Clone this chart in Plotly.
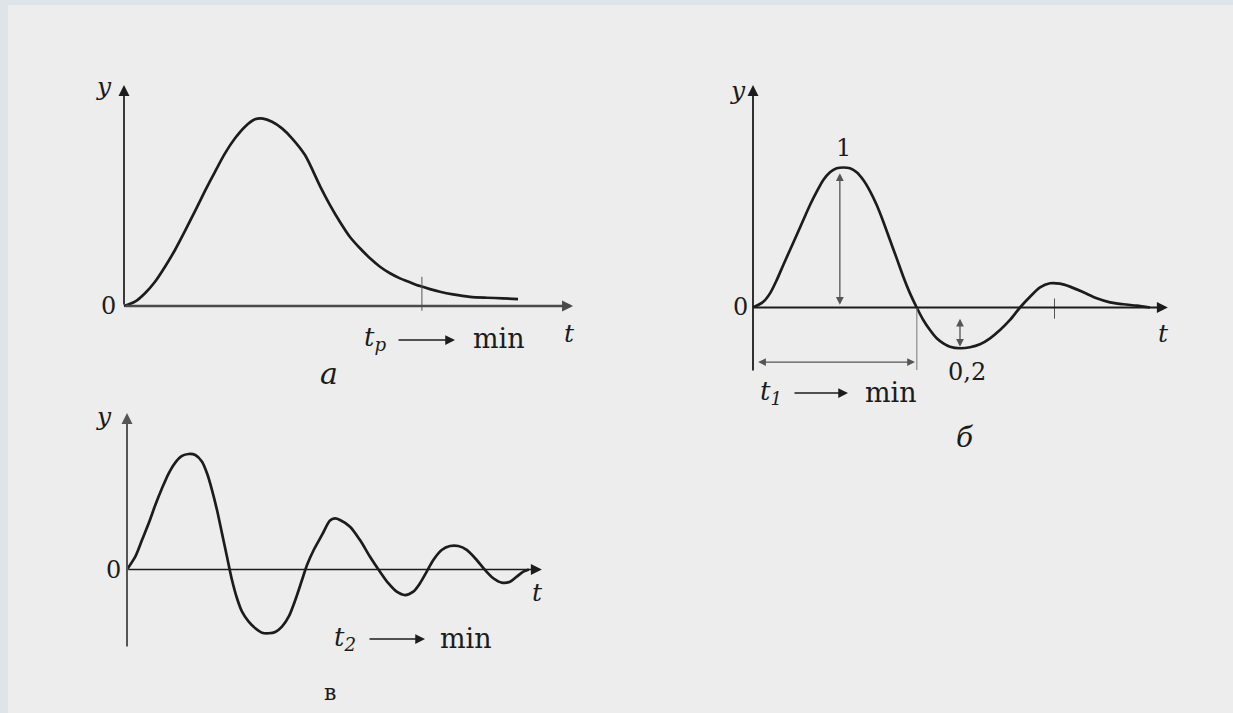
import plotly.graph_objects as go

W, H = 1233, 713

# ---------------- data ----------------
# Panel а: aperiodic transient
t_a = [0, 0.244, 0.467, 0.689, 0.911, 1.133, 1.356, 1.578, 1.8, 2.022, 2.244, 2.467,
       2.689, 2.911, 3.089, 3.289, 3.511, 3.733, 4.022, 4.356, 4.578, 4.8, 5.022,
       5.244, 5.467, 5.689, 5.911, 6.133, 6.356, 6.578, 6.8, 7.022, 7.311, 7.689,
       8.067, 8.422, 8.756]
y_a = [0, 0.023, 0.068, 0.129, 0.209, 0.298, 0.399, 0.505, 0.612, 0.714, 0.812, 0.892,
       0.954, 0.993, 0.997, 0.98, 0.945, 0.892, 0.803, 0.638, 0.537, 0.447, 0.367,
       0.307, 0.254, 0.209, 0.174, 0.147, 0.126, 0.106, 0.090, 0.076, 0.062, 0.049,
       0.044, 0.041, 0.037]
tp_a = 6.62

# Panel б: damped process, overshoot 0.2
t_b = [0, 0.229, 0.378, 0.527, 0.673, 0.822, 0.971, 1.118, 1.267, 1.416, 1.562, 1.711,
       1.86, 2.007, 2.156, 2.304, 2.451, 2.6, 2.749, 2.896, 3.044, 3.193, 3.34, 3.489,
       3.638, 3.784, 3.933, 4.082, 4.229, 4.378, 4.6, 4.822, 5.044, 5.267, 5.489,
       5.711, 5.933, 6.156, 6.378, 6.6, 6.822, 7.044, 7.34, 7.638, 7.933, 8.229,
       8.527, 8.822]
y_b = [0, 0.041, 0.101, 0.196, 0.304, 0.411, 0.518, 0.625, 0.732, 0.827, 0.911, 0.966,
       0.994, 1.0, 0.994, 0.966, 0.911, 0.832, 0.732, 0.613, 0.482, 0.351, 0.22, 0.101,
       0, -0.089, -0.161, -0.22, -0.256, -0.28, -0.291, -0.284, -0.263, -0.22, -0.161,
       -0.089, 0, 0.077, 0.144, 0.173, 0.17, 0.149, 0.109, 0.066, 0.037, 0.023,
       0.013, 0]
peak_b = (1.93, 1.0)
trough_b = (4.6, -0.29)
t1_b = 3.64
tick_b = 6.7

# Panel в: weakly damped oscillation
t_c = [0, 0.184, 0.333, 0.482, 0.629, 0.778, 0.927, 1.073, 1.222, 1.371, 1.518, 1.667,
       1.778, 1.889, 2.0, 2.111, 2.222, 2.333, 2.444, 2.556, 2.704, 2.851, 3.0, 3.149,
       3.296, 3.444, 3.593, 3.74, 3.889, 4.0, 4.149, 4.333, 4.511, 4.622, 4.733, 4.956,
       5.178, 5.4, 5.622, 5.807, 5.993, 6.178, 6.362, 6.511, 6.66, 6.807, 6.993, 7.178,
       7.362, 7.549, 7.771, 7.956, 8.14, 8.327, 8.511, 8.66, 8.807, 8.93]
y_c = [0, 0.111, 0.255, 0.4, 0.558, 0.703, 0.833, 0.925, 0.983, 1.0, 0.991, 0.933,
       0.833, 0.688, 0.515, 0.313, 0.111, -0.091, -0.249, -0.365, -0.452, -0.509, -0.547,
       -0.552, -0.541, -0.495, -0.409, -0.264, -0.091, 0.039, 0.169, 0.299, 0.425, 0.442,
       0.429, 0.371, 0.255, 0.111, -0.019, -0.119, -0.192, -0.221, -0.192, -0.119,
       -0.019, 0.082, 0.169, 0.203, 0.203, 0.169, 0.082, -0.004, -0.076, -0.114,
       -0.106, -0.062, -0.019, 0.0]

# ---------------- layout geometry (pixels) ----------------
panels = {
    "a": dict(ox=124, oy=306, sx=45, sy=188, L=80, R=600, T=70, B=395,
              xa=(0, 9.98), ya=(0, 1.176), xcol="#4a4a4a", xw=2.3, ycol="#1c1c1c", yw=1.7),
    "b": dict(ox=753, oy=307.5, sx=45, sy=140, L=700, R=1200, T=70, B=455,
              xa=(0, 9.22), ya=(-0.46, 1.589), xcol="#1c1c1c", xw=1.8, ycol="#1c1c1c", yw=1.8),
    "c": dict(ox=127, oy=569.5, sx=45, sy=115.5, L=80, R=570, T=400, B=705,
              xa=(0, 9.22), ya=(-0.68, 1.355), xcol="#1c1c1c", xw=1.7, ycol="#555555", yw=2.0),
}

INK = "#1c1c1c"
GREY = "#8a8a8a"
SERIF = '"DejaVu Serif", "Liberation Serif", serif'

fig = go.Figure()
layout = {}
annotations = []
shapes = []


def px(x, y):
    return x / W, 1 - y / H


def axes_names(i):
    s = "" if i == 1 else str(i)
    return "x" + s, "y" + s, "xaxis" + s, "yaxis" + s


for i, (key, p) in enumerate(panels.items(), start=1):
    xr, yr, xk, yk = axes_names(i)
    x0 = (p["L"] - p["ox"]) / p["sx"]
    x1 = (p["R"] - p["ox"]) / p["sx"]
    y0 = (p["oy"] - p["B"]) / p["sy"]
    y1 = (p["oy"] - p["T"]) / p["sy"]
    layout[xk] = dict(domain=[p["L"] / W, p["R"] / W], range=[x0, x1],
                      visible=False, anchor=yr, fixedrange=True)
    layout[yk] = dict(domain=[1 - p["B"] / H, 1 - p["T"] / H], range=[y0, y1],
                      visible=False, anchor=xr, fixedrange=True)
    # axis arrows
    annotations.append(dict(x=p["xa"][1], y=0, ax=p["xa"][0], ay=0, xref=xr, yref=yr,
                            axref=xr, ayref=yr, text="", showarrow=True, arrowhead=2,
                            arrowsize=1.3 * 1.7 / p["xw"], arrowwidth=p["xw"], arrowcolor=p["xcol"]))
    annotations.append(dict(x=0, y=p["ya"][1], ax=0, ay=p["ya"][0], xref=xr, yref=yr,
                            axref=xr, ayref=yr, text="", showarrow=True, arrowhead=2,
                            arrowsize=1.3 * 1.7 / p["yw"], arrowwidth=p["yw"], arrowcolor=p["ycol"]))

curves = [(t_a, y_a, "x", "y"), (t_b, y_b, "x2", "y2"), (t_c, y_c, "x3", "y3")]
for tx, ty, xr, yr in curves:
    fig.add_trace(go.Scatter(x=tx, y=ty, xaxis=xr, yaxis=yr, mode="lines",
                             line=dict(color=INK, width=2.7, shape="spline", smoothing=0.8),
                             hoverinfo="skip", showlegend=False))

# tick marks
shapes.append(dict(type="line", xref="x", yref="y", x0=tp_a, x1=tp_a, y0=-0.025, y1=0.155,
                   line=dict(color="#555", width=1)))
shapes.append(dict(type="line", xref="x2", yref="y2", x0=tick_b, x1=tick_b, y0=-0.08, y1=0.064,
                   line=dict(color="#555", width=1)))
# t1 vertical guide
shapes.append(dict(type="line", xref="x2", yref="y2", x0=t1_b, x1=t1_b, y0=0, y1=-0.446,
                   line=dict(color=GREY, width=1.2)))


# dimension arrows in panel б
def dbl(x, y, ax, ay, xr, yr):
    annotations.append(dict(x=x, y=y, ax=ax, ay=ay, xref=xr, yref=yr, axref=xr, ayref=yr,
                            text="", showarrow=True, arrowhead=2, startarrowhead=2,
                            arrowside="end+start", arrowsize=1.2, startarrowsize=1.2,
                            arrowwidth=1.3, arrowcolor="#555"))


dbl(peak_b[0], 0.02, peak_b[0], peak_b[1] - 0.03, "x2", "y2")
dbl(trough_b[0], trough_b[1] + 0.01, trough_b[0], -0.07, "x2", "y2")
dbl(t1_b - 0.04, -0.39, 0.08, -0.39, "x2", "y2")


def txt(s, x, y, size=25, italic=False, color=INK):
    xp, yp = px(x, y)
    annotations.append(dict(text=s, x=xp, y=yp, xref="paper", yref="paper",
                            showarrow=False, xanchor="center", yanchor="middle",
                            font=dict(family=SERIF, size=size, color=color,
                                      style="italic" if italic else "normal")))


def arrow_px(x0, x1, y):
    a1, b1 = px(x1, y)
    annotations.append(dict(x=a1, y=b1, ax=-(x1 - x0), ay=0, xref="paper", yref="paper",
                            axref="pixel", ayref="pixel", text="", showarrow=True,
                            arrowhead=2, arrowsize=1.3, arrowwidth=1.5, arrowcolor=INK))


# Panel а texts
txt("y", 104, 87, 25, True)
txt("0", 108, 306, 24)
txt("t", 569, 333, 25, True)
txt("t<sub>р</sub>", 375, 338, 26, True)
arrow_px(397, 455, 340)
txt("min", 499, 338, 27)
txt("а", 329, 373, 30, True)

# Panel б texts
txt("y", 738, 90, 25, True)
txt("0", 740, 307, 24)
txt("1", 843, 148, 24)
txt("t", 1163, 333, 25, True)
txt("0,2", 967, 372, 24)
txt("t<sub>1</sub>", 771, 392, 26, True)
arrow_px(793, 848, 393)
txt("min", 891, 392, 27)
txt("б", 965, 437, 28, True)

# Panel в texts
txt("y", 104, 416, 25, True)
txt("0", 113, 570, 24)
txt("t", 537, 592, 25, True)
txt("t<sub>2</sub>", 345, 638, 26, True)
arrow_px(368, 425, 639)
txt("min", 466, 638, 27)
txt("в", 330, 692, 22)

# background panel
shapes.insert(0, dict(type="rect", xref="paper", yref="paper", x0=8 / W, x1=1, y0=0,
                      y1=1 - 5 / H, fillcolor="#ededed", line=dict(width=0), layer="below"))

fig.update_layout(width=W, height=H, margin=dict(l=0, r=0, t=0, b=0),
                  paper_bgcolor="#dfe4e8", plot_bgcolor="rgba(0,0,0,0)",
                  showlegend=False, annotations=annotations, shapes=shapes, **layout)

fig.write_html("out.html", config={"displayModeBar": False},
               post_script="document.body.style.margin='0';document.body.style.overflow='hidden';")
